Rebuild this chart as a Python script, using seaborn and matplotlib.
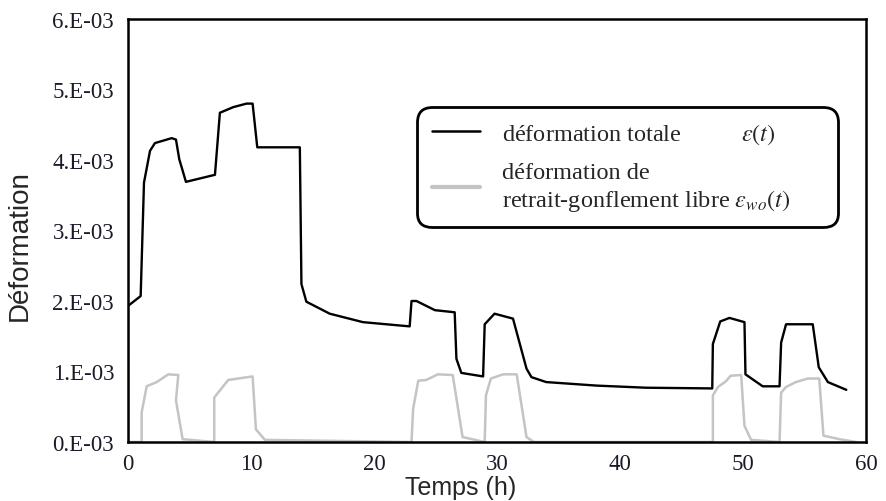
import matplotlib
matplotlib.use("Agg")
import matplotlib.pyplot as plt
import seaborn as sns
import pandas as pd
from matplotlib.lines import Line2D

# ---- data (time in hours, strain in units of 1e-3) ----
t_total = [0.0, 1.03, 1.30, 1.79, 2.19, 3.55, 3.90, 4.17, 4.71, 7.07, 7.47, 8.56, 9.64, 10.13,
           10.51, 13.97, 14.1, 14.5, 16.4, 19.1, 22.9, 23.05, 23.45, 24.95, 26.56, 26.7, 27.1,
           28.87, 29.0, 29.8, 31.3, 32.4, 32.8, 34.0, 38.1, 42.1, 47.5, 47.55, 48.15, 48.9,
           50.12, 50.2, 51.6, 52.97, 53.1, 53.5, 55.67, 56.16, 56.9, 58.4]
eps_total = [1.93, 2.07, 3.68, 4.13, 4.24, 4.31, 4.29, 4.01, 3.69, 3.79, 4.67, 4.75, 4.80, 4.80,
             4.18, 4.18, 2.24, 1.99, 1.82, 1.70, 1.64, 2.00, 2.00, 1.87, 1.84, 1.18, 0.98,
             0.93, 1.67, 1.82, 1.75, 1.04, 0.92, 0.85, 0.80, 0.77, 0.76, 1.39, 1.71, 1.76,
             1.70, 0.96, 0.79, 0.79, 1.41, 1.67, 1.67, 1.06, 0.85, 0.74]

t_free = [0.0, 0.03, 1.11, 1.11, 1.52, 2.33, 3.28, 4.09, 3.90, 4.44, 7.01, 7.01, 8.15, 10.13,
          10.4, 11.13, 23.05, 23.18, 23.6, 24.25, 25.2, 26.4, 27.2, 29.0, 29.1, 29.5, 30.5,
          31.6, 32.4, 33.0, 47.55, 47.55, 47.96, 48.6, 49.0, 49.85, 50.12, 50.66, 52.97,
          53.1, 53.5, 54.3, 55.27, 56.2, 56.54, 57.84, 59.2]
eps_free = [1.9, 0.0, 0.0, 0.42, 0.79, 0.85, 0.96, 0.95, 0.59, 0.04, 0.0, 0.63, 0.88, 0.93,
            0.18, 0.03, 0.0, 0.47, 0.87, 0.88, 0.96, 0.95, 0.07, 0.0, 0.66, 0.90, 0.96,
            0.96, 0.07, 0.0, 0.0, 0.66, 0.78, 0.86, 0.94, 0.95, 0.23, 0.03, 0.0,
            0.70, 0.78, 0.85, 0.90, 0.90, 0.09, 0.04, 0.0]

x_ticks = [0, 10, 20, 30, 40, 50, 60]
y_ticks = [0.0, 1e-3, 2e-3, 3e-3, 4e-3, 5e-3, 6e-3]
y_tick_labels = ["0.E-03", "1.E-03", "2.E-03", "3.E-03", "4.E-03", "5.E-03", "6.E-03"]

label_total = "déformation totale          $\\varepsilon(t)$"
label_free = "déformation de\nretrait-gonflement libre $\\varepsilon_{wo}(t)$"

df_total = pd.DataFrame({"t": t_total, "eps": [v * 1e-3 for v in eps_total]})
df_free = pd.DataFrame({"t": t_free, "eps": [v * 1e-3 for v in eps_free]})

sns.set_style("white")
plt.rcParams["font.family"] = ["Liberation Serif", "DejaVu Serif"]
plt.rcParams["mathtext.fontset"] = "stix"

fig = plt.figure(figsize=(8.87, 5.02), dpi=100)
ax = fig.add_axes([128 / 887, 1 - 443 / 502, (866 - 128) / 887, (443 - 20) / 502])

sns.lineplot(data=df_free, x="t", y="eps", sort=False, estimator=None, color="#c4c4c4",
             linewidth=1.8, ax=ax, legend=False)
sns.lineplot(data=df_total, x="t", y="eps", sort=False, estimator=None, color="black",
             linewidth=1.7, ax=ax, legend=False)

ax.set_xlim(0, 60)
ax.set_ylim(0, 6e-3)
ax.set_xticks(x_ticks)
ax.set_xticklabels([str(v) for v in x_ticks])
ax.set_yticks(y_ticks)
ax.set_yticklabels(y_tick_labels)
ax.tick_params(axis="both", length=0, labelsize=16.5, colors="#1a1a2a")
ax.tick_params(axis="y", pad=10)
ax.tick_params(axis="x", pad=8)
for s in ax.spines.values():
    s.set_color("black")
    s.set_linewidth(1.8)

ax.set_xlabel("Temps (h)", family=["Liberation Sans", "DejaVu Sans"], fontsize=18)
ax.set_ylabel("Déformation", family=["Liberation Sans", "DejaVu Sans"], fontsize=20)
ax.xaxis.set_label_coords(0.451, -0.078)
ax.yaxis.set_label_coords(-0.129, 0.466)

handles = [Line2D([], [], color="black", linewidth=1.8),
           Line2D([], [], color="#c4c4c4", linewidth=3)]
x0 = (417 - 128) / 738
w = (838 - 417) / 738
y_top = (443 - 108) / 423
leg = ax.legend(handles, [label_total, label_free], loc="upper left",
                bbox_to_anchor=(x0, y_top - 0.3, w, 0.3), mode="expand",
                borderaxespad=0, fontsize=17.5, frameon=True, fancybox=True,
                borderpad=0.6, labelspacing=0.65, handlelength=2.0, handletextpad=0.9)
frame = leg.get_frame()
frame.set_edgecolor("black")
frame.set_linewidth(2.0)
frame.set_facecolor("white")
frame.set_alpha(1)
frame.set_boxstyle("round,pad=0,rounding_size=0.6")

fig.savefig("out.png", dpi=100)
